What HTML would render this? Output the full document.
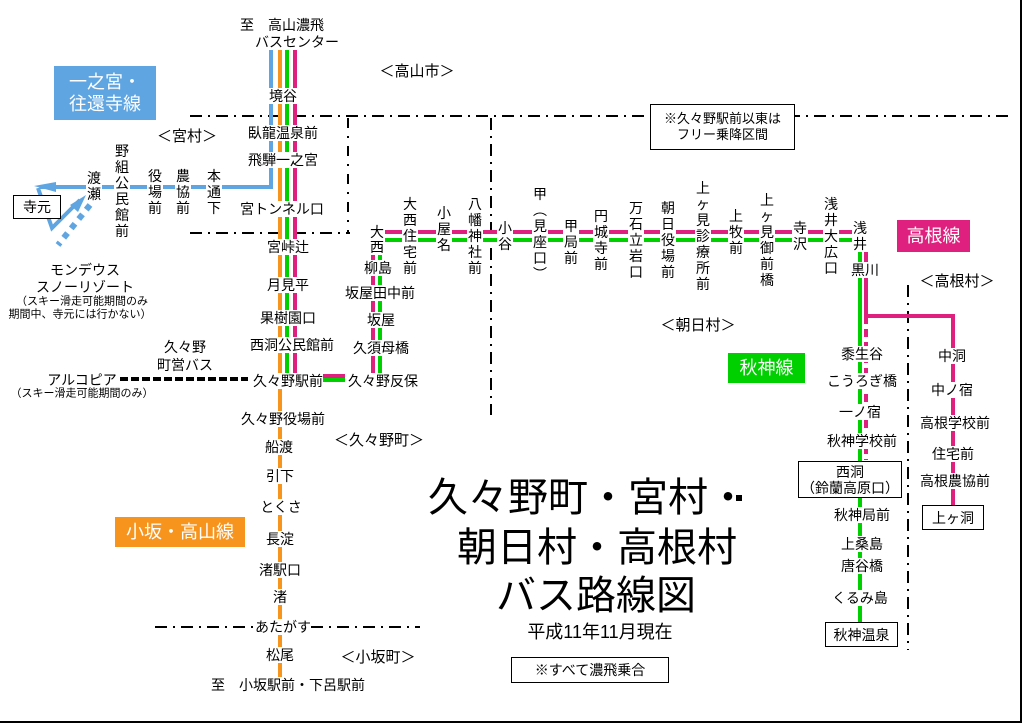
<!DOCTYPE html>
<html><head><meta charset="utf-8"><style>
body{margin:0;width:1025px;height:724px;background:#fff;position:relative;overflow:hidden;font-family:"Liberation Sans","Noto Sans CJK JP",sans-serif;color:#000}
.t{position:absolute;transform:translate(-50%,-50%);font-size:14px;line-height:16px;white-space:nowrap;background:#fff;text-align:center}
.v{position:absolute;transform:translateX(-50%);font-size:14px;line-height:16px;background:#fff;text-align:center;width:16px}
.s{font-size:11px;line-height:13px}
.box{position:absolute;border:1px solid #000;background:#fff;font-size:14px;line-height:16px;text-align:center;box-sizing:border-box}
.lb{position:absolute;color:#fff;font-size:18px;line-height:22px;text-align:center;box-sizing:border-box}
.ttl{position:absolute;transform:translate(-50%,-50%);font-size:40px;line-height:44px;white-space:nowrap}
svg{position:absolute;left:0;top:0}
</style></head><body>
<svg width="1025" height="724">
<g stroke="#000" stroke-width="2" fill="none" stroke-dasharray="12,6,2,6">
<path d="M190 116H1008"/>
<path d="M190 233H350"/>
<path d="M348 118V233" stroke-dasharray="10,8,2,8"/>
<path d="M491 118V415"/>
<path d="M155 627H420"/>
<path d="M908 285V650"/>
</g>
<path d="M120 379H248" stroke="#000" stroke-width="4" stroke-dasharray="8,3"/>
<g stroke-width="4" fill="none">
<path d="M271 50V187H40" stroke="#5ea5e2"/>
<path d="M280 50V678" stroke="#f7941d"/>
<path d="M287 50V380H345" stroke="#00d000"/>
<path d="M295 50V376H345" stroke="#e0207f"/>
<path d="M373 380V232H860" stroke="#e0207f"/>
<path d="M380 380V240H860" stroke="#00d000"/>
<path d="M860 240V622" stroke="#00d000"/>
<path d="M866 232V316H953V505" stroke="#e0207f"/>
<path d="M866 316V460" stroke="#e0207f" stroke-dasharray="8,5"/>
<path d="M38 188L52 228L80 200" stroke="#5ea5e2"/>
<path d="M90 205L58 245" stroke="#5ea5e2" stroke-width="6" stroke-dasharray="6,6"/>
</g>
<polygon points="34,186 56,182 56,192" fill="#5ea5e2"/>
<polygon points="86,195 70,205 78,212" fill="#5ea5e2"/>
<rect x="736" y="495" width="6" height="6" fill="#000"/>
<path d="M1021 0V722H0" stroke="#000" stroke-width="2" fill="none"/>
</svg>

<div class="t" style="left:282px;top:25px">至　高山濃飛</div>
<div class="t" style="left:297px;top:42px">バスセンター</div>
<div class="lb" style="left:54px;top:66px;width:102px;height:54px;background:#5ea5e2;padding-top:5px">一之宮・<br>往還寺線</div>
<div class="t" style="left:417px;top:72px;font-size:15px">＜高山市＞</div>
<div class="t" style="left:283px;top:96px">境谷</div>
<div class="t" style="left:283px;top:133px">臥龍温泉前</div>
<div class="t" style="left:283px;top:160px">飛騨一之宮</div>
<div class="t" style="left:187px;top:137px;font-size:15px">＜宮村＞</div>
<div class="t" style="left:282px;top:209px">宮トンネル口</div>
<div class="v" style="left:214px;top:168px">本<br>通<br>下</div>
<div class="v" style="left:183px;top:168px">農<br>協<br>前</div>
<div class="v" style="left:155px;top:168px">役<br>場<br>前</div>
<div class="v" style="left:122px;top:143px">野<br>組<br>公<br>民<br>館<br>前</div>
<div class="v" style="left:94px;top:170px">渡<br>瀬</div>
<div class="box" style="left:13px;top:195px;width:48px;height:24px;padding-top:3px">寺元</div>
<div class="t" style="left:85px;top:270px">モンデウス</div>
<div class="t" style="left:85px;top:287px">スノーリゾート</div>
<div class="t s" style="left:82px;top:302px">（スキー滑走可能期間のみ</div>
<div class="t s" style="left:80px;top:315px">期間中、寺元には行かない）</div>
<div class="t" style="left:288px;top:247px">宮峠辻</div>
<div class="t" style="left:288px;top:285px">月見平</div>
<div class="t" style="left:288px;top:318px">果樹園口</div>
<div class="t" style="left:292px;top:345px">西洞公民館前</div>
<div class="t" style="left:185px;top:347px">久々野</div>
<div class="t" style="left:185px;top:365px">町営バス</div>
<div class="t" style="left:82px;top:380px">アルコピア</div>
<div class="t s" style="left:82px;top:394px">（スキー滑走可能期間のみ）</div>
<div class="t" style="left:288px;top:381px">久々野駅前</div>
<div class="t" style="left:283px;top:419px">久々野役場前</div>
<div class="t" style="left:379px;top:441px;font-size:15px">＜久々野町＞</div>
<div class="t" style="left:279px;top:447px">船渡</div>
<div class="t" style="left:280px;top:476px">引下</div>
<div class="t" style="left:281px;top:507px">とくさ</div>
<div class="lb" style="left:115px;top:517px;width:130px;height:30px;background:#f7941d;padding-top:4px">小坂・高山線</div>
<div class="t" style="left:280px;top:539px">長淀</div>
<div class="t" style="left:280px;top:570px">渚駅口</div>
<div class="t" style="left:280px;top:597px">渚</div>
<div class="t" style="left:283px;top:627px">あたがす</div>
<div class="t" style="left:280px;top:655px">松尾</div>
<div class="t" style="left:378px;top:658px;font-size:15px">＜小坂町＞</div>
<div class="t" style="left:288px;top:685px">至　小坂駅前・下呂駅前</div>

<div class="v" style="left:377px;top:225px;line-height:15px">大<br>西</div>
<div class="t" style="left:378px;top:268px">柳島</div>
<div class="t" style="left:380px;top:293px">坂屋田中前</div>
<div class="t" style="left:381px;top:320px">坂屋</div>
<div class="t" style="left:381px;top:348px">久須母橋</div>
<div class="t" style="left:383px;top:381px">久々野反保</div>
<div class="v" style="left:410px;top:196px">大<br>西<br>住<br>宅<br>前</div>
<div class="v" style="left:444px;top:205px">小<br>屋<br>名</div>
<div class="v" style="left:475px;top:196px">八<br>幡<br>神<br>社<br>前</div>
<div class="v" style="left:505px;top:220px">小<br>谷</div>
<div class="v" style="left:540px;top:186px">甲<br>︵<br>見<br>座<br>口<br>︶</div>
<div class="v" style="left:571px;top:218px">甲<br>局<br>前</div>
<div class="v" style="left:601px;top:208px">円<br>城<br>寺<br>前</div>
<div class="v" style="left:636px;top:200px">万<br>石<br>立<br>岩<br>口</div>
<div class="v" style="left:668px;top:200px">朝<br>日<br>役<br>場<br>前</div>
<div class="v" style="left:703px;top:180px">上<br>ヶ<br>見<br>診<br>療<br>所<br>前</div>
<div class="v" style="left:736px;top:208px">上<br>牧<br>前</div>
<div class="v" style="left:767px;top:192px">上<br>ヶ<br>見<br>御<br>前<br>橋</div>
<div class="v" style="left:800px;top:220px">寺<br>沢</div>
<div class="v" style="left:831px;top:196px">浅<br>井<br>大<br>広<br>口</div>
<div class="v" style="left:860px;top:220px">浅<br>井</div>
<div class="t" style="left:865px;top:270px">黒川</div>
<div class="box" style="left:650px;top:104px;width:145px;height:46px;padding-top:6px;font-size:13px">※久々野駅前以東は<br>フリー乗降区間</div>
<div class="t" style="left:698px;top:326px;font-size:15px">＜朝日村＞</div>
<div class="lb" style="left:897px;top:220px;width:73px;height:32px;background:#e0207f;padding-top:5px">高根線</div>
<div class="t" style="left:957px;top:282px;font-size:15px">＜高根村＞</div>
<div class="lb" style="left:728px;top:353px;width:77px;height:30px;background:#00d000;padding-top:4px">秋神線</div>
<div class="t" style="left:862px;top:354px">黍生谷</div>
<div class="t" style="left:862px;top:381px">こうろぎ橋</div>
<div class="t" style="left:860px;top:412px">一ノ宿</div>
<div class="t" style="left:862px;top:441px">秋神学校前</div>
<div class="box" style="left:798px;top:461px;width:104px;height:37px;padding-top:2px">西洞<br>（鈴蘭高原口）</div>
<div class="t" style="left:862px;top:515px">秋神局前</div>
<div class="t" style="left:862px;top:544px">上桑島</div>
<div class="t" style="left:862px;top:566px">唐谷橋</div>
<div class="t" style="left:860px;top:598px">くるみ島</div>
<div class="box" style="left:825px;top:622px;width:73px;height:25px;padding-top:4px">秋神温泉</div>
<div class="t" style="left:952px;top:356px">中洞</div>
<div class="t" style="left:952px;top:390px">中ノ宿</div>
<div class="t" style="left:955px;top:423px">高根学校前</div>
<div class="t" style="left:953px;top:454px">住宅前</div>
<div class="t" style="left:955px;top:481px">高根農協前</div>
<div class="box" style="left:922px;top:505px;width:62px;height:25px;padding-top:4px">上ヶ洞</div>

<div class="ttl" style="left:588px;top:498px">久々野町・宮村・</div>
<div class="ttl" style="left:597px;top:548px">朝日村・高根村</div>
<div class="ttl" style="left:596px;top:596px">バス路線図</div>
<div class="t" style="left:600px;top:632px;font-size:18px;line-height:20px">平成11年11月現在</div>
<div class="box" style="left:511px;top:657px;width:158px;height:26px;padding-top:4px">※すべて濃飛乗合</div>
</body></html>
